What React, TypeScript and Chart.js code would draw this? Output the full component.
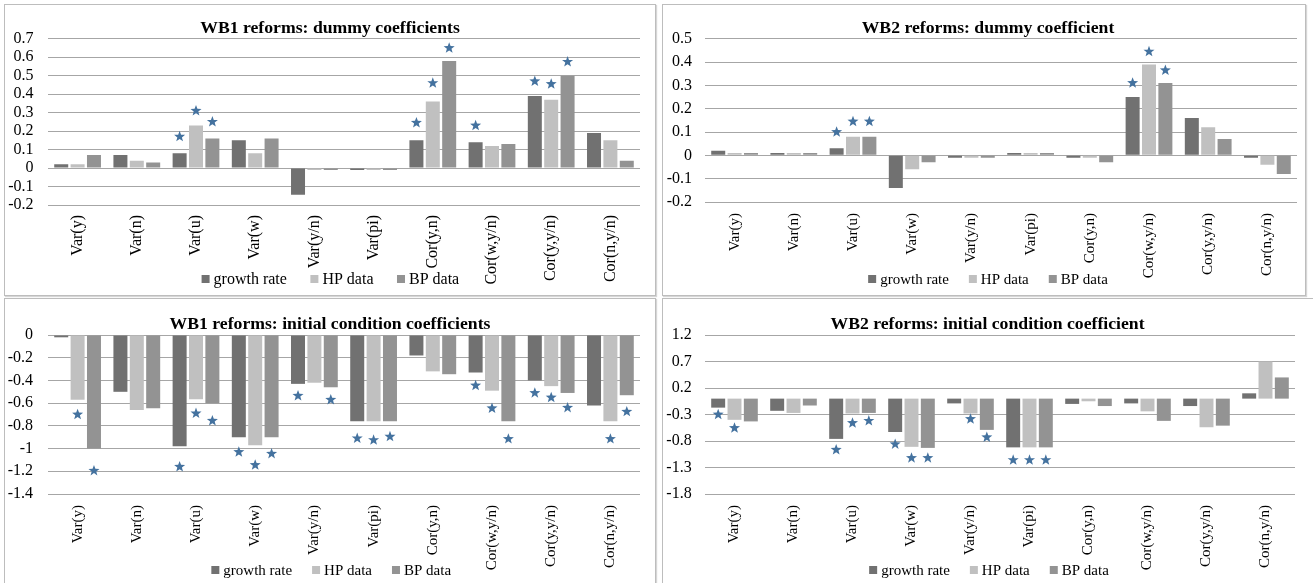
import React, { useEffect, useRef } from "react";
import { Chart, registerables } from "chart.js";

Chart.register(...registerables);

const FONT = "'Liberation Serif', 'Times New Roman', serif";

const CATEGORIES = ["Var(y)", "Var(n)", "Var(u)", "Var(w)", "Var(y/n)", "Var(pi)", "Cor(y,n)", "Cor(w,y/n)", "Cor(y,y/n)", "Cor(n,y/n)"];
const SERIES_NAMES = ["growth rate", "HP data", "BP data"];
const SERIES_COLORS = ["#717171", "#c0c0c0", "#939393"];
const STAR_COLOR = "#44729f";
const GRID_COLOR = "#a6a6a6";

// WB1 reforms: dummy coefficients
const WB1_DUMMY_GROWTH = [0.02, 0.07, 0.08, 0.15, -0.145, -0.01, 0.15, 0.14, 0.39, 0.19];
const WB1_DUMMY_HP = [0.02, 0.04, 0.23, 0.08, -0.01, -0.01, 0.36, 0.12, 0.37, 0.15];
const WB1_DUMMY_BP = [0.07, 0.03, 0.16, 0.16, -0.01, -0.01, 0.58, 0.13, 0.5, 0.04];
const WB1_DUMMY_STAR_GROWTH = [null, null, 0.17, null, null, null, 0.245, 0.23, 0.47, null];
const WB1_DUMMY_STAR_HP = [null, null, 0.31, null, null, null, 0.46, null, 0.455, null];
const WB1_DUMMY_STAR_BP = [null, null, 0.25, null, null, null, 0.65, null, 0.575, null];
const WB1_DUMMY_TICKS = [0.7, 0.6, 0.5, 0.4, 0.3, 0.2, 0.1, 0, -0.1, -0.2];

// WB2 reforms: dummy coefficient
const WB2_DUMMY_GROWTH = [0.02, 0.01, 0.03, -0.14, -0.01, 0.01, -0.01, 0.25, 0.16, -0.01];
const WB2_DUMMY_HP = [0.01, 0.01, 0.08, -0.06, -0.01, 0.01, -0.01, 0.39, 0.12, -0.04];
const WB2_DUMMY_BP = [0.01, 0.01, 0.08, -0.03, -0.01, 0.01, -0.03, 0.31, 0.07, -0.08];
const WB2_DUMMY_STAR_GROWTH = [null, null, 0.1, null, null, null, null, 0.31, null, null];
const WB2_DUMMY_STAR_HP = [null, null, 0.145, null, null, null, null, 0.445, null, null];
const WB2_DUMMY_STAR_BP = [null, null, 0.145, null, null, null, null, 0.365, null, null];
const WB2_DUMMY_TICKS = [0.5, 0.4, 0.3, 0.2, 0.1, 0, -0.1, -0.2];

// WB1 reforms: initial condition coefficients
const WB1_INIT_GROWTH = [-0.02, -0.5, -0.98, -0.9, -0.43, -0.76, -0.18, -0.33, -0.4, -0.62];
const WB1_INIT_HP = [-0.57, -0.66, -0.565, -0.97, -0.42, -0.76, -0.32, -0.49, -0.45, -0.76];
const WB1_INIT_BP = [-1.0, -0.645, -0.6, -0.9, -0.46, -0.76, -0.345, -0.76, -0.51, -0.53];
const WB1_INIT_STAR_GROWTH = [null, null, -1.16, -1.03, -0.535, -0.91, null, -0.445, -0.51, null];
const WB1_INIT_STAR_HP = [-0.7, null, -0.69, -1.145, null, -0.925, null, -0.645, -0.55, -0.915];
const WB1_INIT_STAR_BP = [-1.195, null, -0.755, -1.045, -0.57, -0.895, null, -0.915, -0.64, -0.675];
const WB1_INIT_TICKS = [0, -0.2, -0.4, -0.6, -0.8, -1, -1.2, -1.4];

// WB2 reforms: initial condition coefficient
const WB2_INIT_GROWTH = [-0.17, -0.23, -0.76, -0.63, -0.09, -0.92, -0.1, -0.09, -0.14, 0.1];
const WB2_INIT_HP = [-0.4, -0.27, -0.28, -0.91, -0.28, -0.92, -0.05, -0.24, -0.54, 0.7];
const WB2_INIT_BP = [-0.43, -0.13, -0.27, -0.93, -0.59, -0.92, -0.14, -0.42, -0.51, 0.4];
const WB2_INIT_STAR_GROWTH = [-0.3, null, -0.965, -0.86, null, -1.16, null, null, null, null];
const WB2_INIT_STAR_HP = [-0.555, null, -0.46, -1.12, -0.385, -1.16, null, null, null, null];
const WB2_INIT_STAR_BP = [null, null, -0.42, -1.12, -0.73, -1.16, null, null, null, null];
const WB2_INIT_TICKS = [1.2, 0.7, 0.2, -0.3, -0.8, -1.3, -1.8];

type Geo = {
  left: number; top: number; width: number; height: number;
  padLeft: number; padRight: number;
  yWidth: number; xHeight: number;
  titleTop: number; titleBottom: number;
  yPad: number; xPad: number; xFont: number;
  legendX: number; legendY: number; legendFont: number; legendGap: number;
};

type Spec = {
  title: string;
  series: number[][];
  stars: (number | null)[][];
  ticks: number[];
  geo: Geo;
};

function drawStar(ctx: CanvasRenderingContext2D, cx: number, cy: number, R: number, r: number) {
  ctx.beginPath();
  for (let k = 0; k < 10; k++) {
    const ang = -Math.PI / 2 + (k * Math.PI) / 5;
    const rad = k % 2 === 0 ? R : r;
    const px = cx + rad * Math.cos(ang);
    const py = cy + rad * Math.sin(ang);
    if (k === 0) ctx.moveTo(px, py);
    else ctx.lineTo(px, py);
  }
  ctx.closePath();
  ctx.fill();
}

function makeStarPlugin(stars: (number | null)[][]) {
  return {
    id: "stars",
    afterDatasetsDraw(chart: any) {
      const ctx = chart.ctx as CanvasRenderingContext2D;
      const ys = chart.scales.y;
      ctx.save();
      ctx.fillStyle = STAR_COLOR;
      stars.forEach((arr, di) => {
        const meta = chart.getDatasetMeta(di);
        arr.forEach((v, i) => {
          if (v === null || v === undefined) return;
          const el = meta.data[i];
          if (!el) return;
          drawStar(ctx, el.x, ys.getPixelForValue(v), 5.8, 2.4);
        });
      });
      ctx.restore();
    },
  };
}

function makeLegendPlugin(g: Geo) {
  return {
    id: "bottomLegend",
    afterDraw(chart: any) {
      const ctx = chart.ctx as CanvasRenderingContext2D;
      const sets = chart.data.datasets as any[];
      const box = 8;
      const textGap = 4;
      ctx.save();
      ctx.font = `${g.legendFont}px ${FONT}`;
      ctx.textBaseline = "middle";
      ctx.textAlign = "left";
      const widths = sets.map((d) => box + textGap + ctx.measureText(String(d.label)).width);
      const total = widths.reduce((a, b) => a + b, 0) + g.legendGap * (widths.length - 1);
      let x = g.legendX - total / 2;
      sets.forEach((d, i) => {
        ctx.fillStyle = d.backgroundColor;
        ctx.fillRect(x, g.legendY - box / 2, box, box);
        ctx.fillStyle = "#000";
        ctx.fillText(String(d.label), x + box + textGap, g.legendY + 1);
        x += widths[i] + g.legendGap;
      });
      ctx.restore();
    },
  };
}

function fmt(v: number) {
  const n = Math.round(Number(v) * 100) / 100;
  return String(n === 0 ? 0 : n);
}

function Panel({ spec }: { spec: Spec }) {
  const ref = useRef<HTMLCanvasElement | null>(null);
  useEffect(() => {
    if (!ref.current) return;
    const g = spec.geo;
    const tickVals = spec.ticks;
    const chart = new Chart(ref.current, {
      type: "bar",
      data: {
        labels: CATEGORIES,
        datasets: spec.series.map((d, i) => ({
          label: SERIES_NAMES[i],
          data: d,
          backgroundColor: SERIES_COLORS[i],
          borderWidth: 0,
          categoryPercentage: 0.83,
          barPercentage: 0.855,
        })),
      },
      options: {
        animation: false,
        responsive: false,
        maintainAspectRatio: false,
        layout: { padding: { left: g.padLeft, right: g.padRight, top: 0, bottom: 0 } },
        scales: {
          x: {
            grid: { display: false, drawTicks: false },
            border: { display: false },
            ticks: {
              color: "#000",
              font: { family: FONT, size: g.xFont },
              minRotation: 90,
              maxRotation: 90,
              padding: g.xPad,
              autoSkip: false,
            },
            afterFit: (s: any) => {
              s.height = g.xHeight;
            },
          },
          y: {
            min: Math.min(...tickVals),
            max: Math.max(...tickVals),
            grid: { color: GRID_COLOR, drawTicks: false, lineWidth: 1 },
            border: { display: false },
            ticks: {
              color: "#000",
              font: { family: FONT, size: 16 },
              padding: g.yPad,
              autoSkip: false,
              callback: (v: any) => fmt(v),
            },
            afterBuildTicks: (s: any) => {
              s.ticks = tickVals.map((value) => ({ value }));
            },
            afterFit: (s: any) => {
              s.width = g.yWidth;
              s._computeLabelArea = () => undefined;
            },
          },
        },
        plugins: {
          title: {
            display: true,
            text: spec.title,
            color: "#000",
            font: { family: FONT, size: 17.7, weight: "bold" },
            padding: { top: g.titleTop, bottom: g.titleBottom },
          },
          legend: { display: false },
          tooltip: { enabled: false },
        },
      } as any,
      plugins: [makeStarPlugin(spec.stars), makeLegendPlugin(g)],
    });
    return () => chart.destroy();
  }, [spec]);

  const g = spec.geo;
  return (
    <div
      style={{
        position: "absolute",
        left: g.left,
        top: g.top,
        width: g.width,
        height: g.height,
        border: "1px solid #bdbdbd",
        boxShadow: "1px 1px 1px #d6d6d6",
        background: "#fff",
      }}
    >
      <canvas ref={ref} width={g.width} height={g.height} style={{ display: "block" }} />
    </div>
  );
}

const SPECS: Spec[] = [
  {
    title: "WB1 reforms: dummy coefficients",
    series: [WB1_DUMMY_GROWTH, WB1_DUMMY_HP, WB1_DUMMY_BP],
    stars: [WB1_DUMMY_STAR_GROWTH, WB1_DUMMY_STAR_HP, WB1_DUMMY_STAR_BP],
    ticks: WB1_DUMMY_TICKS,
    geo: {
      left: 4, top: 4, width: 650, height: 290,
      padLeft: 15, padRight: 15,
      yWidth: 28, xHeight: 90,
      titleTop: 12.5, titleBottom: 0,
      yPad: 14.5, xPad: 10, xFont: 16,
      legendX: 325.4, legendY: 274, legendFont: 16, legendGap: 23.5,
    },
  },
  {
    title: "WB2 reforms: dummy coefficient",
    series: [WB2_DUMMY_GROWTH, WB2_DUMMY_HP, WB2_DUMMY_BP],
    stars: [WB2_DUMMY_STAR_GROWTH, WB2_DUMMY_STAR_HP, WB2_DUMMY_STAR_BP],
    ticks: WB2_DUMMY_TICKS,
    geo: {
      left: 662, top: 4, width: 642, height: 290,
      padLeft: 16, padRight: 8,
      yWidth: 26, xHeight: 93,
      titleTop: 12.5, titleBottom: 0,
      yPad: 13, xPad: 11, xFont: 15,
      legendX: 325, legendY: 274, legendFont: 15, legendGap: 20,
    },
  },
  {
    title: "WB1 reforms: initial condition coefficients",
    series: [WB1_INIT_GROWTH, WB1_INIT_HP, WB1_INIT_BP],
    stars: [WB1_INIT_STAR_GROWTH, WB1_INIT_STAR_HP, WB1_INIT_STAR_BP],
    ticks: WB1_INIT_TICKS,
    geo: {
      left: 4, top: 298, width: 650, height: 284,
      padLeft: 15, padRight: 15,
      yWidth: 28, xHeight: 89,
      titleTop: 14.4, titleBottom: 0.4,
      yPad: 15, xPad: 11, xFont: 15,
      legendX: 326.2, legendY: 271, legendFont: 15, legendGap: 20,
    },
  },
  {
    title: "WB2 reforms: initial condition coefficient",
    series: [WB2_INIT_GROWTH, WB2_INIT_HP, WB2_INIT_BP],
    stars: [WB2_INIT_STAR_GROWTH, WB2_INIT_STAR_HP, WB2_INIT_STAR_BP],
    ticks: WB2_INIT_TICKS,
    geo: {
      left: 662, top: 298, width: 650, height: 284,
      padLeft: 17, padRight: 18,
      yWidth: 25, xHeight: 89,
      titleTop: 14.4, titleBottom: 0.4,
      yPad: 13.3, xPad: 11, xFont: 15,
      legendX: 326, legendY: 271, legendFont: 15, legendGap: 20,
    },
  },
];

export default function App() {
  return (
    <div
      style={{
        position: "absolute",
        left: 0,
        top: 0,
        width: 1313,
        height: 583,
        overflow: "hidden",
        background: "#fff",
      }}
    >
      {SPECS.map((s, i) => (
        <Panel key={i} spec={s} />
      ))}
    </div>
  );
}
